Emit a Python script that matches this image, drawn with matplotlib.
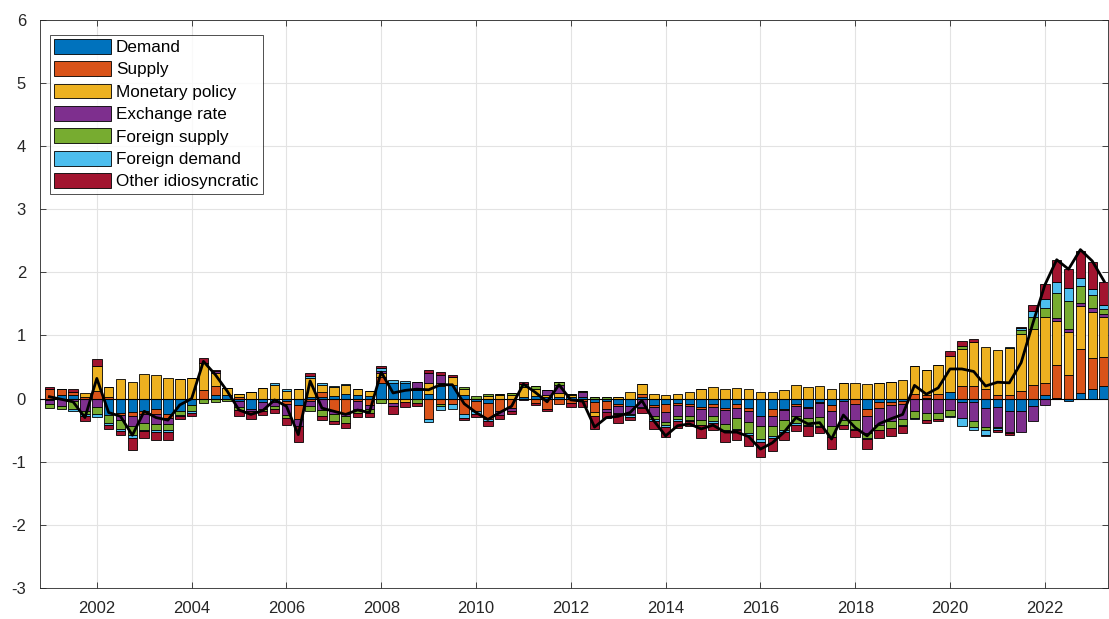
import numpy as np
import matplotlib
matplotlib.use("Agg")
import matplotlib.pyplot as plt
from matplotlib.patches import Patch

plt.rcParams["font.family"] = ["Liberation Sans", "DejaVu Sans"]
plt.rcParams["axes.unicode_minus"] = False

# Quarterly dates, 2001Q1 .. 2023Q2
start_year = 2001
n_quarters = 90
dates = start_year + np.arange(n_quarters) / 4.0

series_names = ["Demand", "Supply", "Monetary policy", "Exchange rate",
                "Foreign supply", "Foreign demand", "Other idiosyncratic"]

demand = [-0.02, 0.05, 0.05, 0.00, 0.00, -0.26, -0.22, -0.21,
          -0.20, -0.17, -0.25, -0.19, -0.10, 0.00, 0.05, 0.05,
          -0.03, -0.16, -0.05, -0.05, -0.03, -0.10, 0.03, 0.02,
          0.04, 0.08, 0.05, 0.04, 0.24, 0.25, 0.24, 0.13,
          0.08, 0.20, 0.21, 0.06, -0.03, -0.07, 0.00, 0.00,
          0.03, 0.04, 0.02, 0.02, 0.02, 0.03, -0.05, -0.04,
          -0.08, -0.12, 0.02, -0.10, -0.08, -0.07, -0.09, -0.13,
          -0.08, -0.15, -0.08, -0.15, -0.27, -0.17, -0.16, -0.09,
          -0.13, -0.05, -0.10, -0.04, 0.00, -0.16, -0.05, -0.05,
          -0.03, -0.01, 0.01, 0.00, 0.11, -0.05, -0.06, -0.15,
          -0.14, -0.19, -0.20, -0.12, 0.05, 0.01, -0.03, 0.09,
          0.15, 0.20]
supply = [0.16, 0.10, 0.05, 0.03, 0.12, 0.02, -0.04, -0.06,
          -0.05, -0.08, -0.05, 0.00, 0.00, 0.14, 0.15, 0.00,
          0.02, 0.00, 0.00, 0.00, -0.05, -0.22, -0.03, 0.08,
          -0.20, -0.24, -0.03, -0.10, 0.10, 0.00, 0.00, 0.00,
          -0.32, -0.08, -0.09, -0.25, -0.17, -0.25, -0.20, -0.15,
          0.00, -0.07, -0.17, -0.08, -0.07, -0.04, -0.16, -0.12,
          -0.04, 0.00, 0.05, -0.03, -0.13, -0.03, -0.02, -0.03,
          -0.06, -0.03, -0.07, -0.05, 0.00, -0.10, -0.02, -0.02,
          -0.02, -0.02, -0.10, 0.00, -0.08, -0.12, -0.10, -0.05,
          -0.05, 0.07, 0.05, 0.08, 0.00, 0.20, 0.20, 0.15,
          0.05, 0.05, 0.12, 0.21, 0.20, 0.53, 0.37, 0.69,
          0.50, 0.46]
monetary_policy = [0.00, 0.00, 0.00, 0.06, 0.40, 0.17, 0.31, 0.26,
                   0.39, 0.37, 0.33, 0.31, 0.33, 0.43, 0.21, 0.12,
                   0.06, 0.10, 0.17, 0.21, 0.12, 0.16, 0.30, 0.12,
                   0.14, 0.14, 0.11, 0.08, 0.06, -0.07, -0.06, 0.00,
                   0.16, 0.04, 0.13, 0.10, 0.00, 0.04, 0.06, 0.06,
                   0.15, 0.11, 0.04, 0.07, 0.03, 0.00, -0.07, 0.00,
                   0.02, 0.10, 0.16, 0.07, 0.05, 0.08, 0.10, 0.15,
                   0.18, 0.16, 0.17, 0.15, 0.10, 0.11, 0.14, 0.21,
                   0.18, 0.20, 0.16, 0.25, 0.24, 0.23, 0.25, 0.26,
                   0.30, 0.44, 0.39, 0.45, 0.57, 0.59, 0.70, 0.66,
                   0.72, 0.75, 0.91, 0.89, 1.04, 0.69, 0.68, 0.69,
                   0.73, 0.64]
exchange_rate = [-0.06, -0.12, -0.04, -0.20, -0.13, 0.00, -0.08, -0.17,
                 -0.14, -0.15, -0.10, 0.00, 0.00, 0.00, 0.02, 0.00,
                 -0.10, -0.04, -0.12, -0.06, -0.18, -0.12, -0.08, -0.18,
                 -0.05, -0.03, -0.14, -0.06, 0.03, -0.04, 0.00, 0.13,
                 0.17, 0.14, 0.00, 0.00, 0.00, 0.00, -0.06, -0.04,
                 -0.02, 0.01, 0.07, 0.13, 0.00, 0.07, 0.00, -0.05,
                 -0.10, -0.12, -0.13, -0.15, -0.16, -0.17, -0.16, -0.18,
                 -0.14, -0.22, -0.16, -0.17, -0.17, -0.17, -0.16, -0.16,
                 -0.15, -0.22, -0.23, -0.30, -0.26, -0.27, -0.27, -0.26,
                 -0.24, -0.19, -0.22, -0.22, -0.18, -0.25, -0.30, -0.30,
                 -0.31, -0.34, -0.33, -0.24, -0.10, 0.04, 0.05, 0.05,
                 0.05, 0.04]
foreign_supply = [-0.07, -0.05, -0.12, -0.05, -0.12, -0.12, -0.14, -0.14,
                  -0.10, -0.10, -0.10, -0.07, -0.10, -0.07, -0.05, -0.04,
                  -0.05, 0.00, -0.03, -0.05, -0.04, 0.00, -0.08, -0.09,
                  -0.10, -0.12, -0.05, -0.07, -0.07, 0.00, 0.00, -0.07,
                  0.00, -0.04, 0.00, 0.03, 0.04, 0.04, 0.02, 0.03,
                  0.05, 0.04, 0.00, 0.04, 0.02, 0.02, 0.03, 0.03,
                  -0.02, -0.02, 0.00, -0.05, -0.05, -0.06, -0.07, -0.08,
                  -0.08, -0.10, -0.17, -0.17, -0.20, -0.15, -0.15, -0.12,
                  -0.12, -0.14, -0.17, -0.07, -0.14, -0.08, -0.07, -0.10,
                  -0.10, -0.10, -0.12, -0.11, -0.09, 0.05, -0.09, -0.05,
                  -0.01, -0.01, 0.06, 0.19, 0.15, 0.40, 0.45, 0.26,
                  0.21, 0.08]
foreign_demand = [0.00, 0.00, -0.03, -0.03, -0.04, -0.03, -0.03, -0.04,
                  -0.03, -0.03, -0.03, -0.02, -0.02, 0.00, 0.00, 0.00,
                  0.00, 0.00, 0.00, 0.03, 0.03, 0.00, 0.03, 0.03,
                  0.02, 0.01, 0.00, 0.00, 0.05, 0.05, 0.04, 0.00,
                  -0.05, -0.06, -0.07, -0.06, -0.04, -0.03, 0.00, 0.00,
                  0.00, 0.00, 0.00, 0.00, 0.00, 0.00, 0.00, 0.00,
                  0.00, -0.03, -0.02, -0.03, -0.03, -0.03, -0.02, 0.00,
                  -0.02, -0.02, -0.02, -0.04, -0.05, -0.03, -0.04, -0.02,
                  -0.02, -0.02, -0.01, 0.00, -0.02, -0.01, 0.00, 0.00,
                  -0.02, -0.02, 0.00, 0.00, -0.02, -0.14, -0.04, -0.08,
                  -0.03, 0.02, 0.03, 0.10, 0.14, 0.18, 0.20, 0.13,
                  0.10, 0.06]
other_idiosyncratic = [0.03, 0.00, 0.05, -0.08, 0.10, -0.07, -0.07, -0.20,
                       -0.10, -0.12, -0.12, -0.05, -0.06, 0.08, 0.03, 0.00,
                       -0.10, -0.12, -0.06, -0.06, -0.12, -0.25, 0.04, -0.07,
                       -0.05, -0.08, -0.07, -0.06, 0.03, -0.13, -0.07, -0.04,
                       0.05, 0.04, 0.04, -0.03, -0.05, -0.09, -0.06, -0.05,
                       0.03, -0.03, -0.03, 0.00, -0.06, -0.10, -0.20, -0.10,
                       -0.15, -0.05, -0.07, -0.12, -0.16, -0.10, -0.08, -0.20,
                       -0.12, -0.16, -0.15, -0.17, -0.23, -0.21, -0.12, -0.10,
                       -0.15, -0.10, -0.18, -0.07, -0.11, -0.16, -0.14, -0.13,
                       -0.10, 0.00, -0.04, -0.02, 0.07, 0.08, 0.05, -0.01,
                       -0.04, -0.04, 0.02, 0.09, 0.24, 0.35, 0.30, 0.43,
                       0.42, 0.36]

# Observed total (black line)
total = [0.03, -0.01, -0.05, -0.30, 0.32, -0.22, -0.28, -0.58,
         -0.20, -0.30, -0.34, -0.10, 0.00, 0.59, 0.38, 0.12,
         -0.18, -0.25, -0.19, -0.02, -0.12, -0.57, 0.28, -0.15,
         -0.20, -0.25, -0.18, -0.22, 0.42, 0.09, 0.13, 0.15,
         0.14, 0.22, 0.22, -0.08, -0.22, -0.33, -0.22, -0.12,
         0.23, 0.10, -0.05, 0.22, -0.02, -0.04, -0.45, -0.30,
         -0.28, -0.22, -0.03, -0.35, -0.59, -0.43, -0.40, -0.48,
         -0.42, -0.53, -0.53, -0.60, -0.80, -0.70, -0.53, -0.30,
         -0.40, -0.38, -0.64, -0.26, -0.46, -0.59, -0.40, -0.32,
         -0.25, 0.21, 0.07, 0.17, 0.47, 0.47, 0.43, 0.20,
         0.26, 0.25, 0.57, 1.20, 1.80, 2.20, 2.05, 2.36,
         2.18, 1.86]

colors = ["#0072BD", "#D95319", "#EDB120", "#7E2F8E",
          "#77AC30", "#4DBEEE", "#A2142F"]

components = np.array([demand, supply, monetary_policy, exchange_rate,
                       foreign_supply, foreign_demand, other_idiosyncratic])

fig = plt.figure(figsize=(11.09, 6.19), dpi=100)
ax = fig.add_axes([0.036, 0.050, 0.963, 0.918])
ax.set_axisbelow(True)

bar_width = 0.2
pos_base = np.zeros(n_quarters)
neg_base = np.zeros(n_quarters)
for vals, col in zip(components, colors):
    bottoms = np.where(vals >= 0, pos_base, neg_base)
    ax.bar(dates, vals, width=bar_width, bottom=bottoms, color=col,
           edgecolor="black", linewidth=0.6, zorder=2)
    pos_base = pos_base + np.clip(vals, 0, None)
    neg_base = neg_base + np.clip(vals, None, 0)

ax.axhline(0, color="black", linewidth=0.8, zorder=3)
ax.plot(dates, total, color="black", linewidth=2.0, zorder=4)

ax.set_xlim(2000.8, 2023.33)
ax.set_ylim(-3, 6)
ax.set_xticks(np.arange(2002, 2023, 2))
ax.set_yticks(np.arange(-3, 7, 1))
ax.grid(True, color="#e3e3e3", linewidth=0.8)
ax.tick_params(axis="both", direction="in", labelsize=12,
               colors="#262626", length=4, width=0.6,
               top=True, right=True)
ax.tick_params(axis="x", pad=9)
ax.tick_params(axis="y", pad=10)
for spine in ax.spines.values():
    spine.set_color("#262626")
    spine.set_linewidth(0.6)

handles = [Patch(facecolor=c, edgecolor="black", linewidth=0.6)
           for c in colors]
leg = ax.legend(handles, series_names, loc="upper left",
                bbox_to_anchor=(0.0094, 0.974), borderaxespad=0,
                fontsize=12.3, frameon=True, fancybox=False,
                handlelength=3.3, handleheight=0.95, handletextpad=0.3,
                labelspacing=0.36, borderpad=0.25, edgecolor="black")
leg.get_frame().set_linewidth(0.6)
for t in leg.get_texts():
    t.set_color("black")

fig.savefig("out.png", dpi=100)
